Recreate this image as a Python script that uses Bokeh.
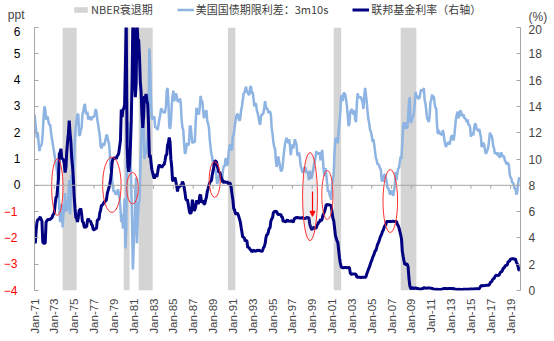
import math
from bokeh.plotting import figure
from bokeh.layouts import column
from bokeh.models import (Range1d, LinearAxis, FixedTicker, Legend, LegendItem,
                          Arrow, NormalHead, Span)
from bokeh.embed import file_html
from bokeh.resources import INLINE

START_YEAR = 1971
NAN = float("nan")

# 10Y minus 3M Treasury spread, ppt, monthly Jan-1971 .. Dec-2019
spread_by_year = [
    [2.7, 2.4, 2.1, 1.8, 2.0, 1.6, 1.3, 1.5, 1.5, 1.6, 2.0, 2.6],
    [3.0, 2.9, 2.5, 2.6, 2.6, 2.4, 2.3, 2.3, 2.0, 1.8, 1.6, 1.4],
    [1.2, 1.0, 0.8, 0.6, 0.4, -0.2, -0.9, -1.4, -1.2, -0.7, -1.6, -1.1],
    [-0.9, -0.3, -0.8, -1.0, -0.8, -0.5, 0.2, -1.1, -0.3, 0.4, 0.2, 0.4],
    [1.0, 1.8, 2.2, 2.5, 2.7, 2.7, 1.9, 1.9, 2.1, 2.2, 2.7, 2.8],
    [3.0, 3.1, 2.8, 2.7, 2.8, 2.5, 2.6, 2.6, 2.5, 2.5, 2.6, 2.6],
    [2.6, 2.7, 2.9, 2.8, 2.5, 2.3, 2.1, 1.9, 1.5, 1.4, 1.5, 1.6],
    [1.5, 1.6, 1.75, 1.9, 1.9, 1.7, 1.6, 1.3, 0.6, 0.65, 0.2, -0.1],
    [-0.25, -0.2, -0.35, -0.3, -0.35, -0.15, -0.3, -0.5, -0.9, -1.4, -1.1, -1.65],
    [-1.2, -0.5, -2.4, -1.7, 1.4, 2.4, 2.0, 1.8, 1.1, 0.1, -1.3, -3.2],
    [-2.4, -1.6, -0.2, 0.3, -2.2, -1.3, -0.7, -0.6, 0.6, 1.6, 2.5, 2.9],
    [2.3, 1.0, 1.2, 1.2, 1.5, 1.8, 2.6, 5.2, 4.4, 3.2, 2.5, 2.6],
    [2.6, 2.6, 2.2, 2.2, 2.2, 2.1, 2.3, 2.5, 2.65, 2.9, 2.9, 2.8],
    [2.8, 2.75, 2.8, 3.0, 3.6, 3.7, 3.2, 2.25, 2.15, 2.4, 3.0, 3.4],
    [3.6, 3.2, 3.3, 3.5, 3.4, 3.2, 3.2, 3.2, 3.3, 3.1, 2.5, 2.2],
    [2.1, 1.6, 1.2, 1.25, 1.55, 1.6, 1.5, 1.65, 2.25, 2.25, 1.9, 1.6],
    [1.65, 1.65, 1.65, 2.4, 2.95, 2.7, 2.75, 2.7, 3.0, 3.4, 3.2, 3.2],
    [2.85, 2.55, 2.65, 2.8, 2.85, 2.45, 2.35, 2.2, 1.75, 1.45, 1.2, 1.05],
    [0.8, 0.65, 0.55, 0.55, 0.4, 0.05, 0.15, 0.2, 0.45, 0.35, 0.2, 0.2],
    [0.55, 0.75, 0.7, 1.0, 1.0, 0.75, 0.85, 1.3, 1.5, 1.55, 1.35, 1.35],
    [1.9, 1.9, 2.2, 2.4, 2.6, 2.7, 2.7, 2.55, 2.45, 2.55, 2.85, 3.0],
    [3.25, 3.5, 3.5, 3.65, 3.75, 3.55, 3.55, 3.45, 3.45, 3.75, 3.75, 3.5],
    [3.55, 3.3, 3.0, 3.1, 3.1, 2.85, 2.75, 2.6, 2.4, 2.3, 2.6, 2.7],
    [2.7, 2.75, 2.95, 3.2, 3.0, 2.9, 2.9, 2.75, 2.8, 2.8, 2.7, 2.15],
    [1.95, 1.65, 1.45, 1.4, 0.95, 0.7, 0.85, 1.1, 0.9, 0.75, 0.55, 0.55],
    [0.65, 1.0, 1.3, 1.55, 1.7, 1.8, 1.7, 1.6, 1.75, 1.55, 1.15, 1.4],
    [1.55, 1.4, 1.55, 1.75, 1.65, 1.55, 1.15, 1.15, 1.25, 1.05, 0.75, 0.65],
    [0.5, 0.5, 0.6, 0.7, 0.65, 0.5, 0.5, 0.45, 0.2, 0.55, 0.4, 0.25],
    [0.4, 0.55, 0.75, 0.9, 1.05, 1.3, 1.2, 1.2, 1.2, 1.25, 0.95, 1.1],
    [1.35, 0.95, 0.55, 0.35, 0.65, 0.4, 0.1, -0.25, -0.2, -0.35, -0.45, -0.55],
    [0.0, 0.2, 0.45, 1.25, 1.75, 1.8, 1.75, 1.6, 2.1, 2.4, 2.8, 3.4],
    [3.4, 3.2, 3.5, 3.5, 3.45, 3.25, 3.0, 2.65, 2.25, 2.35, 2.8, 2.85],
    [2.9, 2.75, 2.7, 2.85, 2.5, 2.4, 3.1, 3.5, 3.35, 3.35, 3.35, 3.35],
    [3.25, 3.15, 2.9, 3.4, 3.7, 3.45, 3.15, 2.8, 2.5, 2.35, 2.1, 2.05],
    [1.9, 1.65, 1.75, 1.55, 1.3, 1.05, 0.95, 0.8, 0.8, 0.75, 0.65, 0.6],
    [0.2, 0.15, 0.2, 0.4, 0.4, 0.3, 0.15, -0.1, -0.1, -0.2, -0.35, -0.3],
    [-0.2, -0.3, -0.4, -0.2, 0.0, 0.5, 0.2, 0.45, 0.65, 0.65, 0.9, 1.1],
    [1.0, 1.6, 2.25, 2.4, 2.15, 2.25, 2.4, 2.15, 2.55, 3.15, 3.35, 2.4],
    [2.4, 2.55, 2.6, 2.75, 3.1, 3.55, 3.4, 3.4, 3.3, 3.3, 3.35, 3.55],
    [3.65, 3.6, 3.6, 3.7, 3.25, 3.1, 2.85, 2.55, 2.5, 2.4, 2.6, 3.15],
    [3.25, 3.45, 3.3, 3.4, 3.15, 2.95, 2.95, 2.3, 1.95, 2.1, 2.0, 1.95],
    [1.95, 1.9, 2.1, 1.95, 1.7, 1.55, 1.45, 1.6, 1.6, 1.65, 1.55, 1.65],
    [1.85, 1.9, 1.85, 1.7, 1.9, 2.25, 2.55, 2.7, 2.8, 2.55, 2.65, 2.85],
    [2.8, 2.65, 2.65, 2.7, 2.55, 2.55, 2.5, 2.4, 2.5, 2.3, 2.3, 2.2],
    [1.85, 1.95, 2.0, 1.9, 2.2, 2.35, 2.3, 2.1, 2.15, 2.05, 2.15, 2.0],
    [1.85, 1.45, 1.6, 1.6, 1.55, 1.35, 1.2, 1.25, 1.35, 1.45, 1.7, 2.0],
    [1.9, 1.9, 1.75, 1.5, 1.4, 1.2, 1.25, 1.2, 1.15, 1.25, 1.1, 1.05],
    [1.15, 1.25, 1.1, 1.1, 1.1, 0.95, 0.9, 0.8, 0.85, 0.85, 0.75, 0.4],
    [0.3, 0.25, 0.1, 0.1, 0.0, -0.15, -0.1, -0.35, -0.25, 0.05, 0.25, 0.3],
]

# Federal funds rate, %, monthly Jan-1971 .. Dec-2019 (right axis)
fed_funds_by_year = [
    [3.7, 3.6, 4.6, 5.2, 5.4, 5.4, 5.5, 5.6, 5.4, 5.3, 3.7, 3.6],
    [3.6, 3.6, 5.2, 5.3, 5.4, 5.4, 5.4, 5.4, 5.5, 5.5, 5.7, 5.8],
    [5.94, 6.58, 7.09, 7.12, 7.84, 8.49, 10.40, 10.50, 10.78, 10.01, 10.03, 9.95],
    [9.65, 8.97, 9.35, 10.51, 11.31, 11.93, 12.92, 12.01, 11.34, 10.06, 9.45, 8.53],
    [7.13, 6.24, 5.54, 5.49, 5.22, 5.55, 6.10, 6.14, 6.24, 5.82, 5.22, 5.20],
    [4.87, 4.77, 4.84, 4.82, 5.29, 5.48, 5.31, 5.29, 5.25, 5.02, 4.95, 4.65],
    [4.61, 4.68, 4.69, 4.73, 5.35, 5.39, 5.42, 5.90, 6.14, 6.47, 6.51, 6.56],
    [6.70, 6.78, 6.79, 6.89, 7.36, 7.60, 7.81, 8.04, 8.45, 8.96, 9.76, 10.03],
    [10.07, 10.06, 10.09, 10.01, 10.24, 10.29, 10.47, 10.94, 11.43, 13.77, 13.18, 13.78],
    [13.82, 14.13, 17.19, 20.50, 10.98, 9.47, 9.03, 9.61, 10.87, 12.81, 15.85, 20.50],
    [20.50, 15.93, 14.70, 15.72, 20.50, 19.10, 19.04, 17.82, 15.87, 15.08, 13.31, 12.37],
    [13.22, 14.78, 14.68, 14.94, 14.45, 14.15, 12.59, 10.12, 10.31, 9.71, 9.20, 8.95],
    [8.68, 8.51, 8.77, 8.80, 8.63, 8.98, 9.37, 9.56, 9.45, 9.48, 9.34, 9.47],
    [9.56, 9.59, 9.91, 10.29, 10.32, 11.06, 11.23, 11.64, 11.30, 9.99, 9.43, 8.38],
    [8.35, 8.50, 8.58, 8.27, 7.97, 7.53, 7.88, 7.90, 7.92, 7.99, 8.05, 8.27],
    [8.14, 7.86, 7.48, 6.99, 6.85, 6.92, 6.56, 6.17, 5.89, 5.85, 6.04, 6.91],
    [6.43, 6.10, 6.13, 6.37, 6.85, 6.73, 6.58, 6.73, 7.22, 7.29, 6.69, 6.77],
    [6.83, 6.58, 6.58, 6.87, 7.09, 7.51, 7.75, 8.01, 8.19, 8.30, 8.35, 8.76],
    [9.12, 9.36, 9.85, 9.84, 9.81, 9.53, 9.24, 8.99, 9.02, 8.84, 8.55, 8.45],
    [8.23, 8.24, 8.28, 8.26, 8.18, 8.29, 8.15, 8.13, 8.20, 8.11, 7.81, 7.31],
    [6.91, 6.25, 6.12, 5.91, 5.78, 5.90, 5.82, 5.66, 5.45, 5.21, 4.81, 4.43],
    [4.03, 4.06, 3.98, 3.73, 3.82, 3.76, 3.25, 3.30, 3.22, 3.10, 3.09, 2.92],
    [3.02, 3.03, 3.07, 2.96, 3.00, 3.04, 3.06, 3.03, 3.09, 2.99, 3.02, 2.96],
    [3.05, 3.25, 3.34, 3.56, 4.01, 4.25, 4.26, 4.47, 4.73, 4.76, 5.29, 5.45],
    [5.53, 5.92, 5.98, 6.05, 6.01, 6.00, 5.85, 5.74, 5.80, 5.76, 5.80, 5.60],
    [5.56, 5.22, 5.31, 5.22, 5.24, 5.27, 5.40, 5.22, 5.30, 5.24, 5.31, 5.29],
    [5.25, 5.19, 5.39, 5.51, 5.50, 5.56, 5.52, 5.54, 5.54, 5.50, 5.52, 5.50],
    [5.56, 5.51, 5.49, 5.45, 5.49, 5.56, 5.54, 5.55, 5.51, 5.07, 4.83, 4.68],
    [4.63, 4.76, 4.81, 4.74, 4.74, 4.76, 4.99, 5.07, 5.22, 5.20, 5.42, 5.30],
    [5.45, 5.73, 5.85, 6.02, 6.27, 6.53, 6.54, 6.50, 6.52, 6.51, 6.51, 6.40],
    [5.98, 5.49, 5.31, 4.80, 4.21, 3.97, 3.77, 3.65, 3.07, 2.49, 2.09, 1.82],
    [1.73, 1.74, 1.73, 1.75, 1.75, 1.75, 1.73, 1.74, 1.75, 1.75, 1.34, 1.24],
    [1.24, 1.26, 1.25, 1.26, 1.26, 1.22, 1.01, 1.03, 1.01, 1.01, 1.00, 0.98],
    [1.00, 1.01, 1.00, 1.00, 1.00, 1.03, 1.26, 1.43, 1.61, 1.76, 1.93, 2.16],
    [2.28, 2.50, 2.63, 2.79, 3.00, 3.04, 3.26, 3.50, 3.62, 3.78, 4.00, 4.16],
    [4.29, 4.49, 4.59, 4.79, 4.94, 4.99, 5.24, 5.25, 5.25, 5.25, 5.25, 5.24],
    [5.25, 5.26, 5.26, 5.25, 5.25, 5.25, 5.26, 5.02, 4.94, 4.76, 4.49, 4.24],
    [3.94, 2.98, 2.61, 2.28, 1.98, 2.00, 2.01, 2.00, 1.81, 0.97, 0.39, 0.16],
    [0.15, 0.22, 0.18, 0.15, 0.18, 0.21, 0.16, 0.16, 0.15, 0.12, 0.12, 0.12],
    [0.11, 0.13, 0.16, 0.20, 0.20, 0.18, 0.18, 0.19, 0.19, 0.19, 0.19, 0.18],
    [0.17, 0.16, 0.14, 0.10, 0.09, 0.09, 0.07, 0.10, 0.08, 0.07, 0.08, 0.07],
    [0.08, 0.10, 0.13, 0.14, 0.16, 0.16, 0.16, 0.13, 0.14, 0.16, 0.16, 0.16],
    [0.14, 0.15, 0.14, 0.15, 0.11, 0.09, 0.09, 0.08, 0.08, 0.09, 0.08, 0.09],
    [0.07, 0.07, 0.08, 0.09, 0.09, 0.10, 0.09, 0.09, 0.09, 0.09, 0.09, 0.12],
    [0.11, 0.11, 0.11, 0.12, 0.12, 0.13, 0.13, 0.14, 0.14, 0.12, 0.12, 0.24],
    [0.34, 0.38, 0.36, 0.37, 0.37, 0.38, 0.39, 0.40, 0.40, 0.40, 0.41, 0.54],
    [0.65, 0.66, 0.79, 0.90, 0.91, 1.04, 1.15, 1.16, 1.15, 1.15, 1.16, 1.30],
    [1.41, 1.42, 1.51, 1.69, 1.70, 1.82, 1.91, 1.91, 1.95, 2.19, 2.20, 2.27],
    [2.40, 2.40, 2.41, 2.42, 2.39, 2.38, 2.40, 2.13, 2.04, 1.83, 1.55, 1.55],
]

# NBER recessions (peak month, trough month)
recession_start = ["1973-11", "1980-01", "1981-07", "1990-07", "2001-03", "2007-12"]
recession_end = ["1975-03", "1980-07", "1982-11", "1991-03", "2001-11", "2009-06"]

x_tick_years = list(range(1971, 2020, 2))
x_tick_labels = ["Jan-%02d" % (y % 100) for y in x_tick_years]
left_ticks = list(range(-4, 7))
right_ticks = list(range(0, 21, 2))

series_names = ["NBER衰退期", "美国国债期限利差：3m10s", "联邦基金利率（右轴）"]
left_unit = "ppt"
right_unit = "(%)"

# red circled episodes (year centre, ppt centre, width yrs, height ppt)
circle_x = [1973.3, 1978.8, 1980.88, 1989.17, 2000.53, 2006.87]
circle_y = [-0.07, 0.02, -0.11, 0.22, -0.37, -0.6]
circle_w = [1.14, 1.86, 1.17, 1.13, 1.13, 1.47]
circle_h = [2.15, 2.1, 1.2, 1.36, 1.86, 2.39]
# the shaded 1998-99 episode with the arrow
shaded_x, shaded_y, shaded_w, shaded_h = 1998.78, -0.43, 1.5, 3.35

spread = [v for row in spread_by_year for v in row]
fed_funds = [v for row in fed_funds_by_year for v in row]
months = [START_YEAR + i / 12.0 for i in range(len(spread))]


def ym(s, end=False):
    y, m = s.split("-")
    return int(y) + (int(m) - 1) / 12.0 + (1 / 12.0 if end else 0)


rec_left = [ym(s) for s in recession_start]
rec_right = [ym(s, True) for s in recession_end]

FONT = "Liberation Sans"
CJK = "Noto Sans CJK SC"
GRAY = "#a6a6a6"
REC_COLOR = "#d4d4d4"
SPREAD_COLOR = "#8db4e2"
FF_COLOR = "#000080"
SPREAD_W = 2.5
FF_W = 3

HEADER_H = 24


def bare_axis(ax):
    ax.axis_line_color = None
    ax.major_tick_line_color = None
    ax.minor_tick_line_color = None
    ax.major_tick_in = 0
    ax.major_tick_out = 0
    ax.minor_tick_in = 0
    ax.minor_tick_out = 0


# ---------------- header (units, legend) ----------------
h = figure(width=554, height=HEADER_H, output_backend="svg", toolbar_location=None,
           x_range=Range1d(0, 1), y_range=Range1d(0, HEADER_H),
           x_axis_type=None, y_axis_type=None, min_border_top=0,
           min_border_bottom=0, min_border_left=30, min_border_right=34,
           outline_line_color=None, background_fill_color="white",
           border_fill_color="white")
h.xgrid.visible = False
h.ygrid.visible = False
lg_rec = h.quad(left=[NAN], right=[NAN], top=[NAN], bottom=[NAN],
                fill_color=REC_COLOR, line_color=None)
lg_spread = h.line(x=[NAN], y=[NAN], line_color=SPREAD_COLOR, line_width=SPREAD_W)
lg_ff = h.line(x=[NAN], y=[NAN], line_color=FF_COLOR, line_width=FF_W)

hl = LinearAxis(ticker=FixedTicker(ticks=[10]), major_label_overrides={10: left_unit})
bare_axis(hl)
hl.major_label_standoff = 10
hl.major_label_text_font = FONT
hl.major_label_text_font_size = "12px"
h.add_layout(hl, "left")
hr = LinearAxis(ticker=FixedTicker(ticks=[6.5]), major_label_overrides={6.5: right_unit})
bare_axis(hr)
hr.major_label_standoff = 8
hr.major_label_text_font = FONT
hr.major_label_text_font_size = "12px"
h.add_layout(hr, "right")

legend = Legend(items=[LegendItem(label=series_names[0], renderers=[lg_rec]),
                       LegendItem(label=series_names[1], renderers=[lg_spread]),
                       LegendItem(label=series_names[2], renderers=[lg_ff])],
                orientation="horizontal", location=(38, 7),
                label_text_font=CJK, label_text_font_size="11px",
                label_text_color="#404040", glyph_width=17, glyph_height=7,
                label_height=12, label_standoff=2, spacing=24, padding=0,
                margin=0, border_line_alpha=0, background_fill_alpha=0)
h.add_layout(legend, "center")

# ---------------- main chart ----------------
p = figure(width=554, height=341 - HEADER_H, output_backend="svg",
           toolbar_location=None,
           x_range=Range1d(1971, 2020), y_range=Range1d(-4, 6),
           min_border_left=30, min_border_right=34, min_border_top=27 - HEADER_H,
           min_border_bottom=51, background_fill_color="white",
           border_fill_color="white", outline_line_color=None)
p.extra_y_ranges = {"ff": Range1d(0, 20)}
p.xgrid.visible = False
p.ygrid.visible = False

p.quad(left=rec_left, right=rec_right, bottom=-4, top=6,
       fill_color=REC_COLOR, line_color=None)

p.add_layout(Span(location=0, dimension="width", line_color=GRAY, line_width=1))
p.segment(x0=x_tick_years, y0=[0] * len(x_tick_years), x1=x_tick_years,
          y1=[-0.13] * len(x_tick_years), line_color=GRAY, line_width=1)

p.line(months, spread, line_color=SPREAD_COLOR, line_width=SPREAD_W)
p.line(months, fed_funds, y_range_name="ff", line_color=FF_COLOR, line_width=FF_W)

p.ellipse(x=circle_x, y=circle_y, width=circle_w, height=circle_h,
          fill_color=None, line_color="#ff3030", line_width=1)
p.ellipse(x=[shaded_x], y=[shaded_y], width=[shaded_w], height=[shaded_h],
          fill_color="#9090a0", fill_alpha=0.15, line_color="#ff3030", line_width=1)
p.add_layout(Arrow(end=NormalHead(size=5, fill_color="red", line_color="red"),
                   x_start=1999.03, y_start=-0.24, x_end=1999.03, y_end=-1.18,
                   line_color="red", line_width=1.2))

# left axis (inner): line, inward ticks, black non-negative labels
ya = p.yaxis[0]
ya.ticker = FixedTicker(ticks=left_ticks)
ya.major_label_overrides = {v: " " for v in left_ticks if v < 0}
ya.axis_line_color = GRAY
ya.major_tick_line_color = GRAY
ya.major_tick_in = 4
ya.major_tick_out = 0
ya.minor_tick_in = 0
ya.minor_tick_out = 0
ya.minor_tick_line_color = None
ya.major_label_standoff = 14
ya.major_label_text_font = FONT
ya.major_label_text_font_size = "12px"
ya.major_label_text_color = "black"

# left axis (outer): red negative labels only
ya2 = LinearAxis(ticker=FixedTicker(ticks=left_ticks))
ya2.major_label_overrides = {v: " " for v in left_ticks if v >= 0}
bare_axis(ya2)
ya2.major_label_standoff = -7
ya2.major_label_text_font = FONT
ya2.major_label_text_font_size = "12px"
ya2.major_label_text_color = "red"
p.add_layout(ya2, "left")

# right axis
ra = LinearAxis(y_range_name="ff", ticker=FixedTicker(ticks=right_ticks))
ra.axis_line_color = GRAY
ra.major_tick_line_color = GRAY
ra.major_tick_in = 4
ra.major_tick_out = 0
ra.minor_tick_in = 0
ra.minor_tick_out = 0
ra.minor_tick_line_color = None
ra.major_label_standoff = 8
ra.major_label_text_font = FONT
ra.major_label_text_font_size = "12px"
p.add_layout(ra, "right")

# bottom axis
xa = p.xaxis[0]
xa.ticker = FixedTicker(ticks=x_tick_years)
xa.major_label_overrides = dict(zip(x_tick_years, x_tick_labels))
xa.major_label_orientation = math.pi / 2
bare_axis(xa)
xa.major_label_standoff = 8
xa.major_label_text_font = FONT
xa.major_label_text_font_size = "11.5px"

layout = column(h, p, spacing=0)
open("out.html", "w").write(file_html(layout, INLINE))
